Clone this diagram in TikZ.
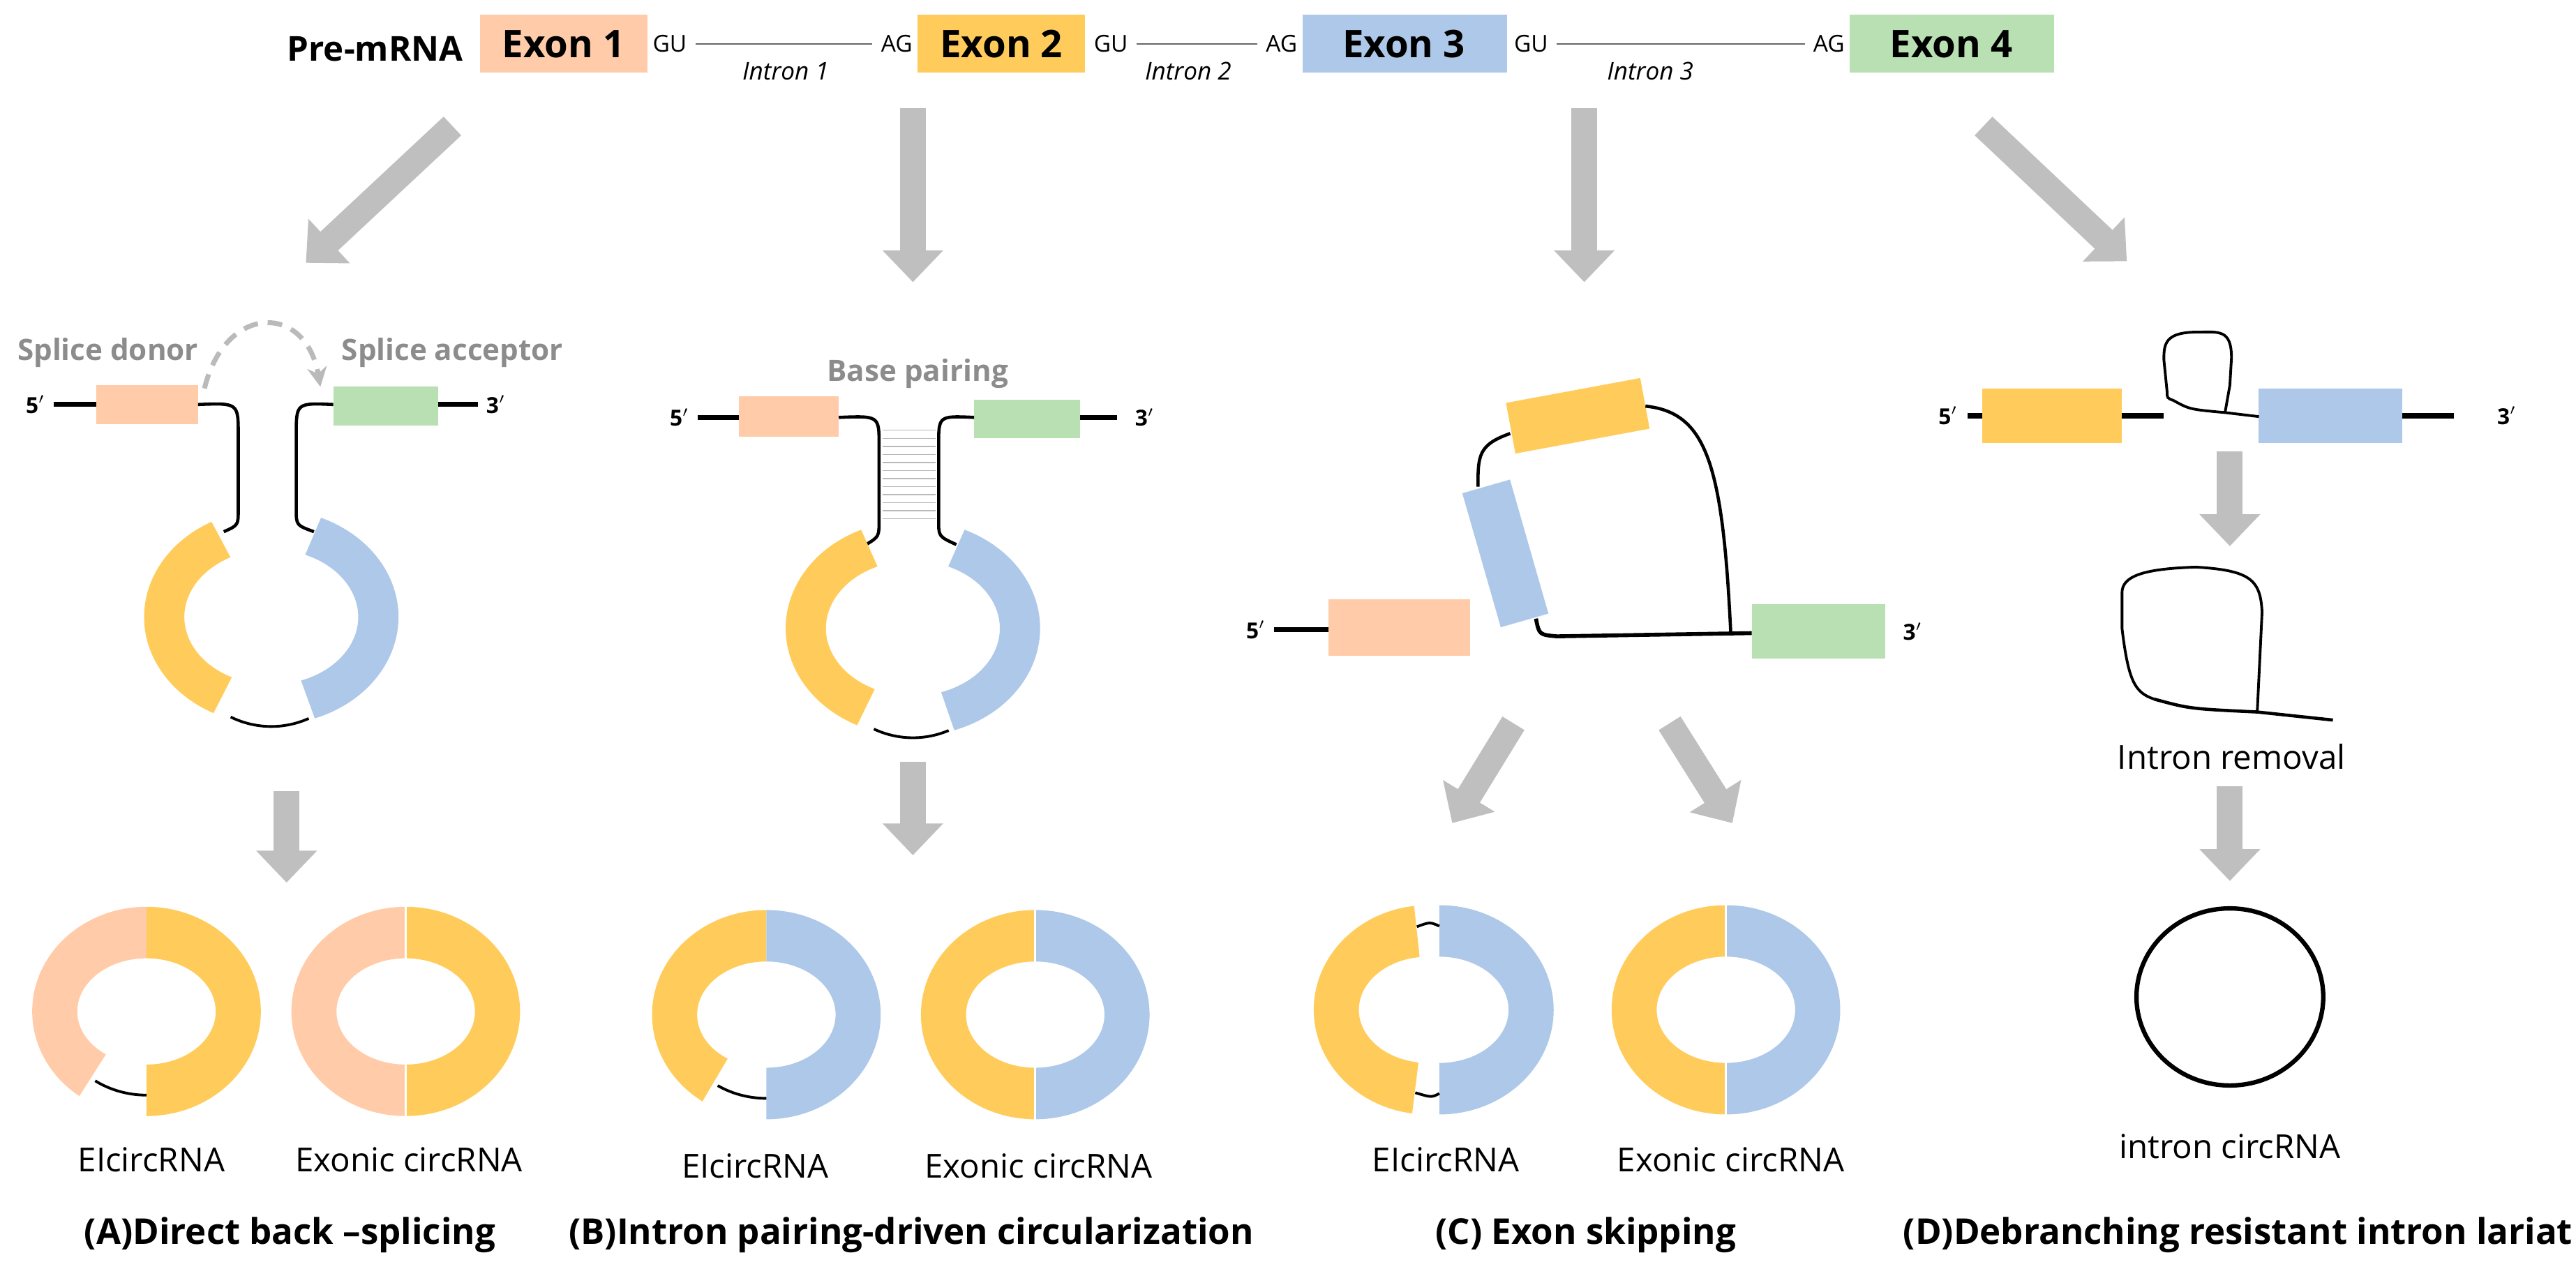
\documentclass[tikz,border=0pt]{standalone}
\usepackage{fontspec}
\setmainfont{Open Sans}
\usetikzlibrary{arrows.meta,calc}

\definecolor{peach}{HTML}{FFCBA8}
\definecolor{yel}{HTML}{FFCC5C}
\definecolor{blu}{HTML}{ADC8E8}
\definecolor{grn}{HTML}{B8E0B2}
\definecolor{arrgray}{HTML}{BFBFBF}
\definecolor{txtgray}{HTML}{8C8C8C}

% ring piece: centre, start, end, colour, outer rx, outer ry, inner rx, inner ry
\newcommand\ringpart[8]{%
  \fill[#4] ($(#1)+(#2:#5 and #6)$) arc[start angle=#2,end angle=#3,x radius=#5,y radius=#6]
    -- ($(#1)+(#3:#7 and #8)$) arc[start angle=#3,end angle=#2,x radius=#7,y radius=#8] -- cycle;}
% small ring: outer 71/65, inner 43/33
\newcommand\smallring[4]{\ringpart{#1}{#2}{#3}{#4}{71}{65}{43}{33}}
% loop ring: outer 79/67, inner 54/42
\newcommand\bigring[4]{\ringpart{#1}{#2}{#3}{#4}{79}{67}{54}{42}}

\tikzset{
  bigarrow/.style={arrgray,line width=10.5pt,-{Triangle[width=24pt,length=13pt]}},
  strand/.style={line width=2pt},
  loopline/.style={line width=1.1pt},
  splice/.style={font=\fontsize{9.5}{10}\selectfont},
  intron/.style={font=\fontsize{10}{11}\selectfont\itshape},
  prime/.style={font=\bfseries\fontsize{9}{10}\selectfont},
  exon/.style={font=\bfseries\fontsize{15.5}{16}\selectfont},
  label/.style={font=\fontsize{13.5}{14}\selectfont},
  title/.style={font=\bfseries\fontsize{14.5}{15}\selectfont},
  graylabel/.style={txtgray,font=\bfseries\fontsize{12}{13}\selectfont}
}

\begin{document}
\begin{tikzpicture}[x=0.023075cm,y=0.023075cm]
\useasboundingbox (0,0) rectangle (1600,788.3);

% pre-mRNA
\node[font=\bfseries\fontsize{14}{15}\selectfont] (pre) at (233,758) {Pre-mRNA};
\fill[peach] (298,743) rectangle (402,779);
\fill[yel] (570,743) rectangle (674,779);
\fill[blu] (809,743) rectangle (936,779);
\fill[grn] (1149,743) rectangle (1276,779);
\node[exon] (ex1) at (350,761) {Exon 1};
\node[exon] (ex2) at (622,761) {Exon 2};
\node[exon] (ex3) at (872,761) {Exon 3};
\node[exon] (ex4) at (1212,761) {Exon 4};
\node[splice] (gu1) at (416,761) {GU};
\node[splice] (ag1) at (557,761) {AG};
\node[splice] (gu2) at (690,761) {GU};
\node[splice] (ag2) at (796,761) {AG};
\node[splice] (gu3) at (951,761) {GU};
\node[splice] (ag3) at (1136,761) {AG};
\draw[gray!80!black,thin] (gu1) -- (ag1);
\draw[gray!80!black,thin] (gu2) -- (ag2);
\draw[gray!80!black,thin] (gu3) -- (ag3);
\node[intron] (in1) at (488,744) {Intron 1};
\node[intron] (in2) at (738,744) {Intron 2};
\node[intron] (in3) at (1025,744) {Intron 3};

% arrows from the pre-mRNA
\draw[bigarrow] (281,710) -- (190,625);
\draw[bigarrow] (567,721) -- (567,613);
\draw[bigarrow] (984,721) -- (984,613);
\draw[bigarrow] (1232,710) -- (1321,626);

% (A) direct back-splicing
\node[graylabel] (donor) at (67,569) {Splice donor};
\node[graylabel] (acceptor) at (281,569) {Splice acceptor};
\node[prime] (a5) at (22,537) {5$'$};
\node[prime] (a3) at (308,537) {3$'$};
\draw[strand] (a5) -- (60,537);
\draw[strand] (272,537) -- (a3);
\fill[peach] (60,525) rectangle (123,549);
\fill[grn] (207,524) rectangle (272,548);
\draw[txtgray!60,line width=2pt,dash pattern=on 6pt off 4pt,-{Stealth[length=8pt,width=8pt]}] (127,547) .. controls (140,600) and (190,600) .. (199,548);
\draw[strand,line width=1.3pt] (123,537) .. controls (148,538) .. (148,518) -- (148,472) .. controls (148,462) .. (139,458);
\draw[strand,line width=1.3pt] (207,537) .. controls (184,538) .. (184,518) -- (184,472) .. controls (184,462) .. (195,458);
\coordinate (ca) at (168.5,405);
\bigring{ca}{118}{243}{yel}
\bigring{ca}{-70}{67}{blu}
\draw[loopline] ($(ca)+(246:62 and 68)$) arc[start angle=246,end angle=292,x radius=62,y radius=68];
\draw[bigarrow] (178,297) -- (178,240);

\coordinate (ra1) at (91,160);
\smallring{ra1}{90}{234}{peach}
\smallring{ra1}{-90}{90}{yel}
\draw[loopline] ($(ra1)+(236:57 and 52)$) arc[start angle=236,end angle=270,x radius=57,y radius=52];
\coordinate (ra2) at (252,160);
\smallring{ra2}{90}{270}{peach}
\smallring{ra2}{-90}{90}{yel}
\draw[white,thick] ($(ra2)+(0,66)$) -- ($(ra2)+(0,-66)$);
\node[label] (ea) at (94,68) {EIcircRNA};
\node[label] (xa) at (254,68) {Exonic circRNA};
\node[title] (ta) at (180,21) {(A)Direct back –splicing};

% (B) intron pairing
\node[graylabel] (pair) at (570,556) {Base pairing};
\node[prime] (b5) at (422,529) {5$'$};
\node[prime] (b3) at (711,529) {3$'$};
\draw[strand] (b5) -- (459,529);
\draw[strand] (671,529) -- (694,529);
\fill[peach] (459,517) rectangle (521,542);
\fill[grn] (605,516) rectangle (671,540);
\foreach \y in {466,471,...,521}
  \draw[gray!55,thin] (548,\y) -- (581,\y);
\draw[strand,line width=1.3pt] (521,529) .. controls (546,530) .. (546,512) -- (546,465) .. controls (546,455) .. (538,450);
\draw[strand,line width=1.3pt] (605,529) .. controls (583,530) .. (583,512) -- (583,465) .. controls (583,455) .. (594,450);
\coordinate (cb) at (567,398);
\bigring{cb}{114}{244}{yel}
\bigring{cb}{-71}{66}{blu}
\draw[loopline] ($(cb)+(247:62 and 68)$) arc[start angle=247,end angle=291,x radius=62,y radius=68];
\draw[bigarrow] (567,315) -- (567,257);

\coordinate (rb1) at (476,158);
\smallring{rb1}{90}{236}{yel}
\smallring{rb1}{-90}{90}{blu}
\draw[loopline] ($(rb1)+(238:57 and 52)$) arc[start angle=238,end angle=270,x radius=57,y radius=52];
\coordinate (rb2) at (643,158);
\smallring{rb2}{90}{270}{yel}
\smallring{rb2}{-90}{90}{blu}
\draw[white,thick] ($(rb2)+(0,66)$) -- ($(rb2)+(0,-66)$);
\node[label] (eb) at (469,64) {EIcircRNA};
\node[label] (xb) at (645,64) {Exonic circRNA};
\node[title] (tb) at (566,21) {(B)Intron pairing-driven circularization};

% (C) exon skipping
\node[prime] (c5) at (780,397) {5$'$};
\node[prime] (c3) at (1188,396) {3$'$};
\draw[strand] (c5) -- (825,397);
\fill[peach] (825,381) rectangle (913,416);
\fill[grn] (1088,379) rectangle (1171,413);
\fill[yel,rotate around={10.5:(980,530)}] (937.6,514) rectangle (1022.4,546);
\fill[blu,rotate around={16:(935,444.5)}] (919.6,401.2) rectangle (950.4,487.8);
\draw[strand,line width=1.3pt] (938,519) .. controls (918,512) and (918,505) .. (918,486);
\draw[strand,line width=1.3pt] (1022,536) .. controls (1060,532) and (1070,500) .. (1075,395);
\draw[strand,line width=1.6pt] (954,404) .. controls (956,394) .. (967,393) -- (1088,395);
\draw[bigarrow] (940,339) -- (902,277);
\draw[bigarrow] (1037,339) -- (1076,277);

\coordinate (rc1) at (894,161);
\coordinate (rc1y) at (887,161);
\smallring{rc1y}{97}{262}{yel}
\smallring{rc1}{-90}{90}{blu}
\draw[loopline] ($(rc1y)+(262:57 and 52)$) .. controls +(10,-3) .. ($(rc1)+(270:57 and 52)$);
\draw[loopline] ($(rc1y)+(97:57 and 52)$) .. controls +(8,3) .. ($(rc1)+(90:57 and 52)$);
\coordinate (rc2) at (1072,161);
\smallring{rc2}{90}{270}{yel}
\smallring{rc2}{-90}{90}{blu}
\draw[white,thick] ($(rc2)+(0,66)$) -- ($(rc2)+(0,-66)$);
\node[label] (ec) at (898,68) {EIcircRNA};
\node[label] (xc) at (1075,68) {Exonic circRNA};
\node[title] (tc) at (985,21) {(C) Exon skipping};

% (D) debranching resistant intron lariat
\node[prime] (d5) at (1210,530) {5$'$};
\node[prime] (d3) at (1557,530) {3$'$};
\draw[strand] (1222,530) -- (1231,530);
\draw[strand] (1318,530) -- (1344,530);
\draw[strand] (1492,530) -- (1524,530);
\fill[yel] (1231,513) rectangle (1318,547);
\fill[blu] (1403,513) rectangle (1492,547);
\draw[loopline] (1350,539.5) .. controls (1360,534) .. (1382,532) -- (1403,529.5);
\draw[loopline] (1382,532) -- (1385,549) -- (1386,566) .. controls (1386,584) and (1378,582) .. (1365,582) .. controls (1345,582) and (1344,575) .. (1344,565) -- (1346,545) .. controls (1346,541) .. (1350,539.5);
\draw[bigarrow] (1385,508) -- (1385,449);
\draw[loopline,line width=1.3pt] (1338,354) .. controls (1360,348) .. (1402,346) -- (1449,341);
\draw[loopline] (1402,346) -- (1405,408) .. controls (1404,428) and (1398,434) .. (1364,436) .. controls (1330,435) and (1318,430) .. (1318,420) -- (1318,398) .. controls (1322,365) and (1326,358) .. (1338,354);
\node[label] (rem) at (1386,318) {Intron removal};
\draw[bigarrow] (1385,300) -- (1385,241);
\draw[line width=1.8pt] (1385,169) ellipse [x radius=58, y radius=55];
\node[label] (ed) at (1385,76) {intron circRNA};
\node[title] (td) at (1390,21) {(D)Debranching resistant intron lariat};
\end{tikzpicture}
\end{document}
